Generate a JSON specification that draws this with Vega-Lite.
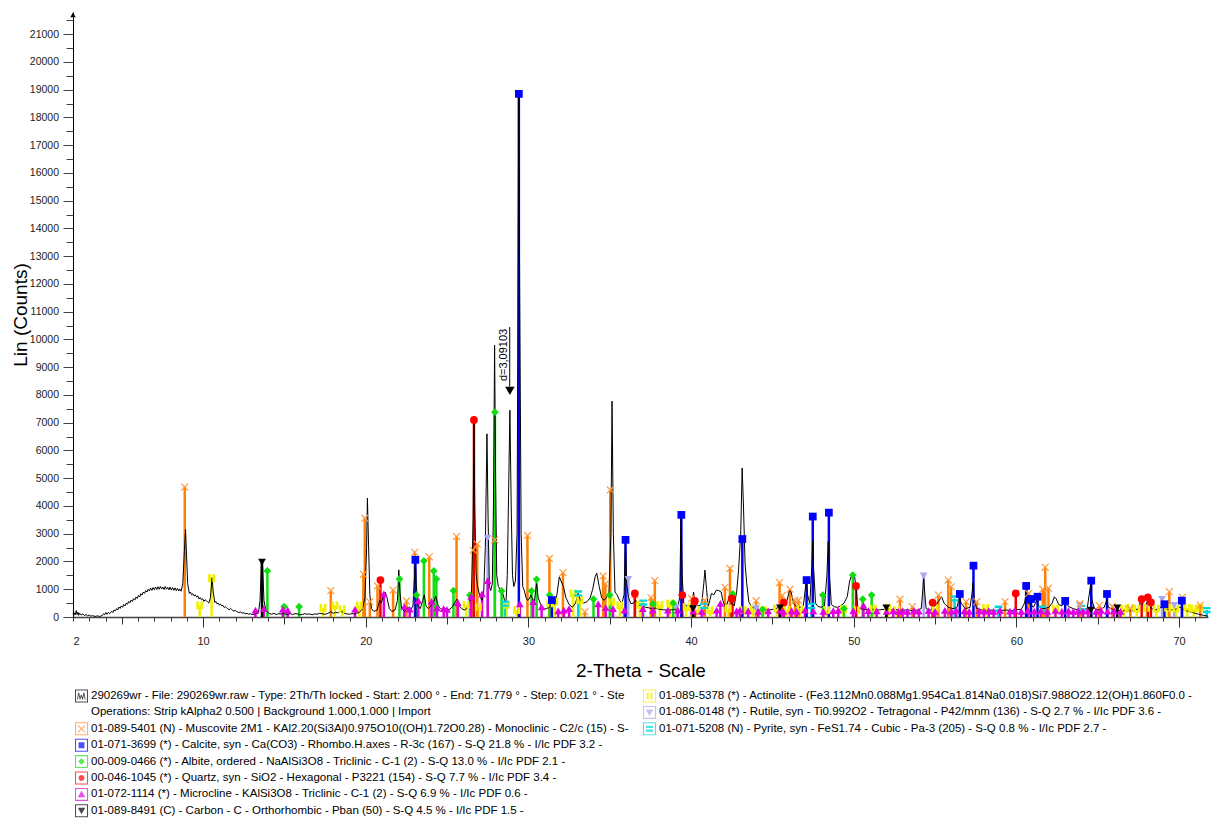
{
  "$schema": "https://vega.github.io/schema/vega-lite/v6.json",
  "width": 1135,
  "height": 605,
  "autosize": {"type": "none"},
  "padding": {"left": 73, "top": 12, "right": 4, "bottom": 206},
  "background": "white",
  "config": {
    "view": {"stroke": null},
    "font": "Liberation Sans",
    "axis": {"grid": false, "labelFont": "Liberation Sans", "titleFont": "Liberation Sans"}
  },
  "resolve": {
    "scale": {"color": "independent", "shape": "independent", "size": "independent"},
    "axis": {"x": "independent", "y": "independent"}
  },
  "datasets": {
    "sticks": [
      {"p":"Y","t":9.79,"h":420},{"p":"Y","t":10.52,"h":1400},{"p":"Y","t":17.37,"h":330},{"p":"Y","t":18.1,"h":420},{"p":"Y","t":18.55,"h":280},{"p":"Y","t":19.6,"h":420},{"p":"Y","t":26.17,"h":440},{"p":"Y","t":26.92,"h":360},{"p":"Y","t":28.65,"h":440},{"p":"Y","t":29.27,"h":250},{"p":"Y","t":31.32,"h":490},{"p":"Y","t":31.62,"h":550},{"p":"Y","t":32.75,"h":850},{"p":"Y","t":33.16,"h":610},{"p":"Y","t":35.11,"h":550},{"p":"Y","t":35.62,"h":420},{"p":"Y","t":36.85,"h":440},{"p":"Y","t":38.08,"h":440},{"p":"Y","t":38.69,"h":490},{"p":"Y","t":39.7,"h":360},{"p":"Y","t":40.34,"h":250},{"p":"Y","t":41.16,"h":250},{"p":"Y","t":42.28,"h":300},{"p":"Y","t":43.2,"h":250},{"p":"Y","t":43.82,"h":280},{"p":"Y","t":44.43,"h":250},{"p":"Y","t":45.26,"h":300},{"p":"Y","t":45.87,"h":260},{"p":"Y","t":46.69,"h":280},{"p":"Y","t":48.33,"h":250},{"p":"Y","t":49.36,"h":280},{"p":"Y","t":50.18,"h":250},{"p":"Y","t":51.2,"h":300},{"p":"Y","t":52.1,"h":330},{"p":"Y","t":52.64,"h":250},{"p":"Y","t":55.0,"h":300},{"p":"Y","t":58.1,"h":330},{"p":"Y","t":62.4,"h":300},{"p":"Y","t":66.6,"h":300},{"p":"Y","t":67.0,"h":330},{"p":"Y","t":67.4,"h":300},{"p":"Y","t":68.0,"h":330},{"p":"Y","t":68.6,"h":300},{"p":"Y","t":69.3,"h":330},{"p":"Y","t":69.8,"h":300},{"p":"Y","t":70.5,"h":330},{"p":"Y","t":70.9,"h":300},{"p":"Y","t":71.3,"h":330},
      {"p":"P","t":28.55,"h":480},{"p":"P","t":33.06,"h":850},{"p":"P","t":37.05,"h":520},{"p":"P","t":40.8,"h":400},{"p":"P","t":47.4,"h":400},{"p":"P","t":56.2,"h":670},{"p":"P","t":58.9,"h":300},{"p":"P","t":61.6,"h":300},{"p":"P","t":64.0,"h":330},{"p":"P","t":71.7,"h":250},
      {"p":"R","t":27.49,"h":2840},{"p":"R","t":36.14,"h":1360},{"p":"R","t":39.1,"h":360},{"p":"R","t":44.0,"h":300},{"p":"R","t":54.3,"h":1480},{"p":"R","t":63.9,"h":420},{"p":"R","t":68.95,"h":640},{"p":"R","t":69.7,"h":420},
      {"p":"M","t":8.87,"h":4680},{"p":"M","t":17.85,"h":950},{"p":"M","t":19.85,"h":1540},{"p":"M","t":19.94,"h":3560},{"p":"M","t":20.25,"h":550},{"p":"M","t":20.72,"h":1120},{"p":"M","t":21.68,"h":970},{"p":"M","t":22.5,"h":580},{"p":"M","t":23.01,"h":2330},{"p":"M","t":23.9,"h":2170},{"p":"M","t":25.58,"h":2900},{"p":"M","t":26.6,"h":2410},{"p":"M","t":26.85,"h":2630},{"p":"M","t":27.93,"h":2780},{"p":"M","t":29.94,"h":2940},{"p":"M","t":31.29,"h":2110},{"p":"M","t":32.12,"h":1600},{"p":"M","t":33.47,"h":190},{"p":"M","t":34.59,"h":1480},{"p":"M","t":34.73,"h":1190},{"p":"M","t":35.03,"h":4580},{"p":"M","t":36.55,"h":800},{"p":"M","t":37.53,"h":700},{"p":"M","t":37.77,"h":1310},{"p":"M","t":40.03,"h":670},{"p":"M","t":40.85,"h":600},{"p":"M","t":42.08,"h":1070},{"p":"M","t":42.39,"h":1750},{"p":"M","t":44.0,"h":590},{"p":"M","t":45.44,"h":1240},{"p":"M","t":45.6,"h":770},{"p":"M","t":46.08,"h":1000},{"p":"M","t":46.4,"h":600},{"p":"M","t":46.6,"h":600},{"p":"M","t":52.84,"h":640},{"p":"M","t":53.6,"h":370},{"p":"M","t":55.2,"h":790},{"p":"M","t":55.81,"h":1330},{"p":"M","t":55.98,"h":1090},{"p":"M","t":56.9,"h":550},{"p":"M","t":57.56,"h":550},{"p":"M","t":59.3,"h":550},{"p":"M","t":60.75,"h":850},{"p":"M","t":61.62,"h":1000},{"p":"M","t":61.77,"h":1790},{"p":"M","t":61.97,"h":1040},{"p":"M","t":63.91,"h":480},{"p":"M","t":65.1,"h":410},{"p":"M","t":65.9,"h":380},{"p":"M","t":67.0,"h":300},{"p":"M","t":69.4,"h":910},{"p":"M","t":70.2,"h":710},{"p":"M","t":71.3,"h":430},
      {"p":"A","t":13.95,"h":1660},{"p":"A","t":14.98,"h":370},{"p":"A","t":15.9,"h":370},{"p":"A","t":22.07,"h":1370},{"p":"A","t":23.12,"h":790},{"p":"A","t":23.57,"h":2020},{"p":"A","t":24.18,"h":1660},{"p":"A","t":24.34,"h":1370},{"p":"A","t":25.39,"h":950},{"p":"A","t":26.4,"h":790},{"p":"A","t":27.94,"h":7380},{"p":"A","t":28.35,"h":940},{"p":"A","t":30.19,"h":940},{"p":"A","t":30.5,"h":1360},{"p":"A","t":31.3,"h":790},{"p":"A","t":34.0,"h":640},{"p":"A","t":35.0,"h":790},{"p":"A","t":37.66,"h":470},{"p":"A","t":38.9,"h":500},{"p":"A","t":42.56,"h":830},{"p":"A","t":44.4,"h":270},{"p":"A","t":48.1,"h":790},{"p":"A","t":49.4,"h":300},{"p":"A","t":49.94,"h":1510},{"p":"A","t":50.55,"h":640},{"p":"A","t":51.1,"h":790},
      {"p":"Q","t":20.9,"h":1330},{"p":"Q","t":26.65,"h":7100},{"p":"Q","t":36.54,"h":850},{"p":"Q","t":39.46,"h":790},{"p":"Q","t":40.23,"h":580},{"p":"Q","t":42.5,"h":670},{"p":"Q","t":45.7,"h":520},{"p":"Q","t":50.14,"h":1120},{"p":"Q","t":54.85,"h":520},{"p":"Q","t":59.96,"h":850},{"p":"Q","t":67.7,"h":640},{"p":"Q","t":68.08,"h":710},{"p":"Q","t":68.27,"h":530},
      {"p":"K","t":13.22,"h":250},{"p":"K","t":13.73,"h":300},{"p":"K","t":14.9,"h":280},{"p":"K","t":15.2,"h":250},{"p":"K","t":19.34,"h":280},{"p":"K","t":21.11,"h":830},{"p":"K","t":22.37,"h":370},{"p":"K","t":22.7,"h":280},{"p":"K","t":23.23,"h":590},{"p":"K","t":24.04,"h":560},{"p":"K","t":24.38,"h":330},{"p":"K","t":24.79,"h":300},{"p":"K","t":24.99,"h":270},{"p":"K","t":25.66,"h":520},{"p":"K","t":26.48,"h":740},{"p":"K","t":27.15,"h":830},{"p":"K","t":27.5,"h":1310},{"p":"K","t":29.47,"h":470},{"p":"K","t":30.29,"h":550},{"p":"K","t":30.81,"h":360},{"p":"K","t":31.83,"h":220},{"p":"K","t":32.18,"h":250},{"p":"K","t":32.5,"h":300},{"p":"K","t":34.29,"h":470},{"p":"K","t":34.75,"h":340},{"p":"K","t":35.2,"h":300},{"p":"K","t":35.9,"h":250},{"p":"K","t":37.03,"h":300},{"p":"K","t":37.64,"h":250},{"p":"K","t":38.57,"h":250},{"p":"K","t":39.18,"h":250},{"p":"K","t":40.13,"h":220},{"p":"K","t":40.65,"h":200},{"p":"K","t":41.57,"h":250},{"p":"K","t":41.8,"h":490},{"p":"K","t":42.8,"h":220},{"p":"K","t":43.0,"h":250},{"p":"K","t":43.51,"h":220},{"p":"K","t":44.13,"h":200},{"p":"K","t":44.74,"h":220},{"p":"K","t":45.46,"h":250},{"p":"K","t":45.67,"h":200},{"p":"K","t":46.18,"h":230},{"p":"K","t":46.49,"h":200},{"p":"K","t":47.0,"h":250},{"p":"K","t":47.51,"h":220},{"p":"K","t":48.13,"h":200},{"p":"K","t":48.74,"h":230},{"p":"K","t":49.05,"h":250},{"p":"K","t":49.97,"h":230},{"p":"K","t":50.6,"h":420},{"p":"K","t":50.9,"h":230},{"p":"K","t":51.41,"h":220},{"p":"K","t":52.02,"h":200},{"p":"K","t":52.43,"h":230},{"p":"K","t":52.74,"h":200},{"p":"K","t":53.0,"h":230},{"p":"K","t":53.3,"h":200},{"p":"K","t":53.7,"h":240},{"p":"K","t":54.0,"h":210},{"p":"K","t":54.6,"h":230},{"p":"K","t":55.0,"h":200},{"p":"K","t":55.6,"h":240},{"p":"K","t":56.0,"h":210},{"p":"K","t":56.3,"h":250},{"p":"K","t":56.8,"h":220},{"p":"K","t":57.1,"h":200},{"p":"K","t":57.7,"h":240},{"p":"K","t":58.0,"h":210},{"p":"K","t":58.3,"h":230},{"p":"K","t":58.6,"h":200},{"p":"K","t":59.0,"h":240},{"p":"K","t":59.6,"h":210},{"p":"K","t":59.9,"h":230},{"p":"K","t":60.3,"h":200},{"p":"K","t":60.7,"h":240},{"p":"K","t":61.1,"h":210},{"p":"K","t":61.5,"h":230},{"p":"K","t":61.9,"h":200},{"p":"K","t":62.4,"h":240},{"p":"K","t":62.8,"h":210},{"p":"K","t":63.2,"h":230},{"p":"K","t":63.5,"h":200},{"p":"K","t":63.8,"h":240},{"p":"K","t":64.1,"h":210},{"p":"K","t":64.4,"h":230},{"p":"K","t":64.9,"h":200},{"p":"K","t":65.2,"h":240},{"p":"K","t":65.6,"h":210},{"p":"K","t":66.0,"h":230},{"p":"K","t":66.4,"h":200},
      {"p":"C","t":23.05,"h":2060},{"p":"C","t":29.41,"h":18850},{"p":"C","t":31.44,"h":610},{"p":"C","t":35.97,"h":2780},{"p":"C","t":39.4,"h":3680},{"p":"C","t":43.15,"h":2810},{"p":"C","t":47.1,"h":1330},{"p":"C","t":47.48,"h":3620},{"p":"C","t":48.47,"h":3760},{"p":"C","t":56.52,"h":830},{"p":"C","t":57.36,"h":1850},{"p":"C","t":60.6,"h":1120},{"p":"C","t":60.9,"h":650},{"p":"C","t":61.3,"h":730},{"p":"C","t":63.0,"h":580},{"p":"C","t":64.6,"h":1310},{"p":"C","t":65.57,"h":830},{"p":"C","t":69.1,"h":460},{"p":"C","t":70.17,"h":590},
      {"p":"B","t":13.62,"h":1980},{"p":"B","t":40.12,"h":300},{"p":"B","t":45.46,"h":330},{"p":"B","t":52.0,"h":330},{"p":"B","t":64.58,"h":250},{"p":"B","t":66.2,"h":330}
    ],
    "pattern": [
      {"t":2.0,"c":120},{"t":2.05,"c":60},{"t":2.1,"c":150},{"t":2.15,"c":80},{"t":2.2,"c":230},{"t":2.25,"c":90},{"t":2.3,"c":170},{"t":2.35,"c":60},{"t":2.4,"c":140},{"t":2.5,"c":70},{"t":2.6,"c":110},{"t":2.7,"c":50},{"t":2.8,"c":90},{"t":2.9,"c":40},{"t":3.0,"c":70},{"t":3.1,"c":30},{"t":3.2,"c":50},{"t":3.35,"c":20},{"t":3.5,"c":40},{"t":3.65,"c":20},{"t":3.8,"c":50},{"t":3.88,"c":120},{"t":3.95,"c":80},{"t":4.02,"c":160},{"t":4.1,"c":100},{"t":4.18,"c":170},{"t":4.25,"c":120},
      {"t":4.3,"c":150},{"t":4.38,"c":210},{"t":4.45,"c":160},{"t":4.52,"c":250},{"t":4.6,"c":220},{"t":4.68,"c":300},{"t":4.75,"c":250},{"t":4.82,"c":360},{"t":4.9,"c":310},{"t":4.97,"c":400},{"t":5.05,"c":350},{"t":5.12,"c":450},{"t":5.2,"c":400},{"t":5.27,"c":500},{"t":5.35,"c":460},{"t":5.42,"c":560},{"t":5.5,"c":510},{"t":5.57,"c":610},{"t":5.65,"c":560},{"t":5.72,"c":660},{"t":5.8,"c":610},{"t":5.87,"c":720},{"t":5.95,"c":670},{"t":6.02,"c":780},{"t":6.1,"c":720},{"t":6.17,"c":840},{"t":6.25,"c":790},{"t":6.32,"c":900},{"t":6.4,"c":850},{"t":6.47,"c":950},{"t":6.55,"c":900},{"t":6.62,"c":1000},{"t":6.7,"c":940},{"t":6.77,"c":1040},{"t":6.85,"c":960},{"t":6.92,"c":1060},{"t":7.0,"c":980},{"t":7.07,"c":1080},{"t":7.15,"c":990},{"t":7.22,"c":1090},{"t":7.3,"c":1000},{"t":7.37,"c":1100},{"t":7.45,"c":1010},{"t":7.52,"c":1080},{"t":7.6,"c":990},{"t":7.67,"c":1100},{"t":7.75,"c":1000},{"t":7.82,"c":1070},{"t":7.9,"c":980},{"t":7.97,"c":1080},{"t":8.05,"c":970},{"t":8.12,"c":1060},{"t":8.2,"c":960},{"t":8.27,"c":1050},{"t":8.35,"c":950},{"t":8.42,"c":1030},{"t":8.5,"c":940},{"t":8.57,"c":1010},{"t":8.65,"c":930},{"t":8.75,"c":1200},{"t":8.85,"c":2400},{"t":8.92,"c":3150},{"t":8.98,"c":2200},{"t":9.05,"c":1200},{"t":9.15,"c":850},{"t":9.22,"c":900},{"t":9.3,"c":800},{"t":9.37,"c":840},{"t":9.45,"c":760},{"t":9.52,"c":800},{"t":9.6,"c":720},{"t":9.67,"c":760},{"t":9.75,"c":650},{"t":9.82,"c":700},{"t":9.9,"c":620},{"t":9.97,"c":660},{"t":10.05,"c":560},{"t":10.12,"c":620},{"t":10.2,"c":590},{"t":10.28,"c":540},{"t":10.35,"c":500},{"t":10.45,"c":700},{"t":10.55,"c":1420},{"t":10.62,"c":900},{"t":10.72,"c":520},{"t":10.78,"c":560},{"t":10.85,"c":480},{"t":10.92,"c":500},{"t":11.0,"c":430},{"t":11.07,"c":460},{"t":11.15,"c":400},{"t":11.22,"c":420},{"t":11.3,"c":340},{"t":11.37,"c":370},{"t":11.45,"c":330},{"t":11.52,"c":300},{"t":11.6,"c":260},{"t":11.67,"c":300},{"t":11.75,"c":280},{"t":11.82,"c":230},{"t":11.9,"c":210},{"t":11.97,"c":240},{"t":12.05,"c":200},{"t":12.12,"c":180},{"t":12.2,"c":160},{"t":12.3,"c":180},{"t":12.4,"c":140},{"t":12.5,"c":150},{"t":12.6,"c":120},{"t":12.7,"c":130},{"t":12.8,"c":100},{"t":12.9,"c":120},{"t":13.0,"c":90},{"t":13.2,"c":110},{"t":13.4,"c":150},{"t":13.5,"c":600},{"t":13.58,"c":1950},{"t":13.66,"c":1800},{"t":13.74,"c":600},{"t":13.85,"c":250},{"t":14.0,"c":150},{"t":14.1,"c":120},{"t":14.2,"c":100},{"t":14.35,"c":130},{"t":14.5,"c":90},{"t":14.65,"c":120},{"t":14.8,"c":110},{"t":15.0,"c":130},{"t":15.1,"c":90},{"t":15.2,"c":100},{"t":15.35,"c":120},{"t":15.5,"c":90},{"t":15.65,"c":120},{"t":15.8,"c":110},{"t":15.95,"c":80},{"t":16.1,"c":90},{"t":16.25,"c":120},{"t":16.4,"c":100},{"t":16.55,"c":110},{"t":16.7,"c":80},{"t":16.85,"c":110},{"t":17.0,"c":100},{"t":17.15,"c":130},{"t":17.3,"c":120},{"t":17.45,"c":100},{"t":17.6,"c":110},{"t":17.85,"c":190},{"t":18.0,"c":130},{"t":18.15,"c":170},{"t":18.3,"c":150},{"t":18.5,"c":200},{"t":18.6,"c":170},{"t":18.7,"c":130},{"t":18.85,"c":110},{"t":19.0,"c":100},{"t":19.15,"c":120},{"t":19.3,"c":110},{"t":19.45,"c":140},{"t":19.6,"c":160},{"t":19.8,"c":300},{"t":19.95,"c":700},{"t":20.05,"c":2500},{"t":20.1,"c":4280},{"t":20.17,"c":2600},{"t":20.25,"c":800},{"t":20.35,"c":300},{"t":20.5,"c":200},{"t":20.7,"c":250},{"t":20.85,"c":600},{"t":20.95,"c":500},{"t":21.1,"c":780},{"t":21.2,"c":900},{"t":21.3,"c":700},{"t":21.45,"c":300},{"t":21.6,"c":200},{"t":21.8,"c":250},{"t":21.95,"c":600},{"t":22.03,"c":1700},{"t":22.1,"c":900},{"t":22.2,"c":300},{"t":22.4,"c":200},{"t":22.6,"c":350},{"t":22.75,"c":250},{"t":22.9,"c":400},{"t":23.0,"c":1500},{"t":23.05,"c":2100},{"t":23.1,"c":1200},{"t":23.2,"c":400},{"t":23.35,"c":300},{"t":23.5,"c":600},{"t":23.6,"c":800},{"t":23.7,"c":400},{"t":23.85,"c":300},{"t":24.0,"c":400},{"t":24.15,"c":500},{"t":24.3,"c":750},{"t":24.45,"c":400},{"t":24.6,"c":300},{"t":24.75,"c":250},{"t":24.9,"c":300},{"t":25.1,"c":250},{"t":25.3,"c":350},{"t":25.5,"c":550},{"t":25.62,"c":650},{"t":25.75,"c":400},{"t":25.9,"c":300},{"t":26.05,"c":250},{"t":26.2,"c":300},{"t":26.35,"c":450},{"t":26.5,"c":900},{"t":26.6,"c":3500},{"t":26.65,"c":7050},{"t":26.7,"c":4000},{"t":26.78,"c":1600},{"t":26.85,"c":1200},{"t":26.95,"c":900},{"t":27.05,"c":700},{"t":27.15,"c":600},{"t":27.25,"c":900},{"t":27.35,"c":2500},{"t":27.45,"c":6600},{"t":27.52,"c":3500},{"t":27.6,"c":1100},{"t":27.68,"c":950},{"t":27.78,"c":1200},{"t":27.85,"c":4000},{"t":27.92,"c":9800},{"t":27.98,"c":5000},{"t":28.05,"c":1500},{"t":28.15,"c":1100},{"t":28.25,"c":1000},{"t":28.35,"c":950},{"t":28.45,"c":800},{"t":28.55,"c":550},{"t":28.62,"c":500},{"t":28.7,"c":1500},{"t":28.78,"c":4500},{"t":28.86,"c":7450},{"t":28.94,"c":4000},{"t":29.02,"c":1500},{"t":29.1,"c":1100},{"t":29.2,"c":1300},{"t":29.3,"c":3000},{"t":29.38,"c":15000},{"t":29.41,"c":18900},{"t":29.46,"c":12000},{"t":29.55,"c":3000},{"t":29.65,"c":1100},{"t":29.75,"c":950},{"t":29.85,"c":700},{"t":29.95,"c":600},{"t":30.05,"c":650},{"t":30.15,"c":800},{"t":30.25,"c":650},{"t":30.35,"c":500},{"t":30.5,"c":1200},{"t":30.6,"c":700},{"t":30.75,"c":450},{"t":30.9,"c":280},{"t":31.1,"c":300},{"t":31.3,"c":350},{"t":31.45,"c":600},{"t":31.6,"c":450},{"t":31.75,"c":800},{"t":31.9,"c":1450},{"t":32.0,"c":1300},{"t":32.15,"c":1100},{"t":32.3,"c":700},{"t":32.5,"c":450},{"t":32.7,"c":350},{"t":32.9,"c":500},{"t":33.05,"c":850},{"t":33.2,"c":600},{"t":33.4,"c":500},{"t":33.6,"c":550},{"t":33.8,"c":700},{"t":33.95,"c":1000},{"t":34.1,"c":1450},{"t":34.2,"c":1580},{"t":34.35,"c":1100},{"t":34.5,"c":700},{"t":34.65,"c":600},{"t":34.8,"c":700},{"t":34.95,"c":900},{"t":35.07,"c":3000},{"t":35.14,"c":7780},{"t":35.22,"c":3000},{"t":35.32,"c":900},{"t":35.45,"c":800},{"t":35.6,"c":600},{"t":35.75,"c":500},{"t":35.88,"c":800},{"t":35.96,"c":2750},{"t":36.04,"c":1200},{"t":36.15,"c":700},{"t":36.3,"c":480},{"t":36.45,"c":500},{"t":36.6,"c":600},{"t":36.8,"c":420},{"t":37.0,"c":400},{"t":37.2,"c":350},{"t":37.4,"c":330},{"t":37.6,"c":300},{"t":37.8,"c":320},{"t":38.0,"c":280},{"t":38.3,"c":260},{"t":38.6,"c":250},{"t":38.9,"c":260},{"t":39.15,"c":300},{"t":39.3,"c":700},{"t":39.38,"c":3650},{"t":39.45,"c":1500},{"t":39.55,"c":500},{"t":39.7,"c":400},{"t":39.9,"c":370},{"t":40.05,"c":420},{"t":40.15,"c":900},{"t":40.25,"c":500},{"t":40.45,"c":400},{"t":40.65,"c":450},{"t":40.78,"c":1200},{"t":40.85,"c":1690},{"t":40.95,"c":1000},{"t":41.05,"c":380},{"t":41.15,"c":600},{"t":41.25,"c":850},{"t":41.4,"c":800},{"t":41.55,"c":970},{"t":41.7,"c":950},{"t":41.85,"c":900},{"t":41.95,"c":600},{"t":42.08,"c":380},{"t":42.2,"c":450},{"t":42.35,"c":730},{"t":42.5,"c":500},{"t":42.65,"c":400},{"t":42.8,"c":900},{"t":42.92,"c":1700},{"t":43.05,"c":3000},{"t":43.14,"c":5370},{"t":43.22,"c":4000},{"t":43.32,"c":1900},{"t":43.42,"c":1200},{"t":43.55,"c":550},{"t":43.7,"c":380},{"t":43.9,"c":300},{"t":44.1,"c":260},{"t":44.3,"c":250},{"t":44.6,"c":280},{"t":44.9,"c":260},{"t":45.2,"c":300},{"t":45.45,"c":380},{"t":45.7,"c":420},{"t":45.9,"c":600},{"t":46.05,"c":970},{"t":46.15,"c":900},{"t":46.3,"c":500},{"t":46.45,"c":380},{"t":46.7,"c":350},{"t":46.9,"c":400},{"t":47.0,"c":900},{"t":47.08,"c":1330},{"t":47.16,"c":800},{"t":47.3,"c":480},{"t":47.42,"c":1800},{"t":47.47,"c":2720},{"t":47.53,"c":1800},{"t":47.65,"c":500},{"t":47.8,"c":380},{"t":48.0,"c":350},{"t":48.2,"c":400},{"t":48.35,"c":1500},{"t":48.43,"c":2720},{"t":48.5,"c":1600},{"t":48.62,"c":450},{"t":48.8,"c":370},{"t":49.0,"c":350},{"t":49.2,"c":400},{"t":49.4,"c":500},{"t":49.6,"c":730},{"t":49.75,"c":1300},{"t":49.88,"c":1520},{"t":49.96,"c":1570},{"t":50.05,"c":1450},{"t":50.14,"c":1100},{"t":50.24,"c":400},{"t":50.4,"c":300},{"t":50.6,"c":280},{"t":50.9,"c":250},{"t":51.2,"c":280},{"t":51.5,"c":250},{"t":51.8,"c":270},{"t":52.1,"c":300},{"t":52.4,"c":250},{"t":52.7,"c":270},{"t":53.0,"c":240},{"t":53.3,"c":260},{"t":53.6,"c":230},{"t":53.9,"c":250},{"t":54.15,"c":300},{"t":54.25,"c":1000},{"t":54.3,"c":1450},{"t":54.36,"c":900},{"t":54.45,"c":300},{"t":54.7,"c":250},{"t":55.0,"c":400},{"t":55.2,"c":550},{"t":55.4,"c":730},{"t":55.55,"c":500},{"t":55.8,"c":350},{"t":56.1,"c":300},{"t":56.35,"c":350},{"t":56.5,"c":730},{"t":56.6,"c":500},{"t":56.85,"c":300},{"t":57.15,"c":350},{"t":57.28,"c":900},{"t":57.33,"c":1250},{"t":57.4,"c":700},{"t":57.55,"c":300},{"t":57.9,"c":250},{"t":58.2,"c":230},{"t":58.5,"c":250},{"t":58.8,"c":220},{"t":59.1,"c":240},{"t":59.4,"c":250},{"t":59.7,"c":230},{"t":60.0,"c":260},{"t":60.3,"c":280},{"t":60.5,"c":500},{"t":60.63,"c":970},{"t":60.72,"c":500},{"t":60.9,"c":450},{"t":61.05,"c":350},{"t":61.25,"c":600},{"t":61.4,"c":350},{"t":61.7,"c":300},{"t":62.0,"c":350},{"t":62.2,"c":500},{"t":62.33,"c":730},{"t":62.45,"c":650},{"t":62.6,"c":450},{"t":62.8,"c":400},{"t":62.95,"c":600},{"t":63.05,"c":550},{"t":63.2,"c":380},{"t":63.5,"c":300},{"t":63.8,"c":250},{"t":64.1,"c":260},{"t":64.35,"c":300},{"t":64.5,"c":900},{"t":64.57,"c":1200},{"t":64.65,"c":600},{"t":64.8,"c":300},{"t":65.1,"c":250},{"t":65.4,"c":350},{"t":65.55,"c":600},{"t":65.65,"c":350},{"t":66.0,"c":250},{"t":66.4,"c":230},{"t":66.8,"c":220},{"t":67.2,"c":230},{"t":67.5,"c":300},{"t":67.65,"c":600},{"t":67.71,"c":680},{"t":67.8,"c":400},{"t":67.95,"c":450},{"t":68.1,"c":600},{"t":68.2,"c":350},{"t":68.5,"c":250},{"t":68.8,"c":300},{"t":69.0,"c":420},{"t":69.15,"c":300},{"t":69.5,"c":250},{"t":69.8,"c":280},{"t":70.06,"c":360},{"t":70.3,"c":250},{"t":70.6,"c":200},{"t":70.9,"c":150},{"t":71.2,"c":100},{"t":71.5,"c":60},{"t":71.779,"c":30}
    ]
  },
  "layer": [
    {
      "data": {"name": "sticks"},
      "mark": {"type": "rule", "strokeWidth": 2.5},
      "encoding": {
        "x": {"field": "t", "type": "quantitative", "scale": {"domain": [2, 71.779], "nice": false, "zero": false},
              "axis": {"orient": "bottom", "values": [2,3,4,5,6,7,8,9,10,11,12,13,14,15,16,17,18,19,20,21,22,23,24,25,26,27,28,29,30,31,32,33,34,35,36,37,38,39,40,41,42,43,44,45,46,47,48,49,50,51,52,53,54,55,56,57,58,59,60,61,62,63,64,65,66,67,68,69,70,71], "tickSize": 4, "tickColor": "#333", "labels": false, "domain": false, "title": null}},
        "y": {"field": "h", "type": "quantitative", "scale": {"domain": [0, 21800], "nice": false},
              "axis": {"orient": "left", "values": [500,1500,2500,3500,4500,5500,6500,7500,8500,9500,10500,11500,12500,13500,14500,15500,16500,17500,18500,19500,20500,21500], "tickSize": 7, "tickColor": "#444", "labels": false, "domain": false, "title": null}},
        "y2": {"datum": 0},
        "color": {"field": "p", "type": "nominal", "legend": null,
                  "scale": {"domain": ["Y","P","R","M","A","Q","K","C","B"], "range": ["#f0f000","#00d8d8","#a8a8f0","#ff8000","#11dd11","#ee0000","#e000e0","#0000ee","#000000"]}}
      }
    },
    {
      "data": {"name": "pattern"},
      "mark": {"type": "line", "color": "#000000", "strokeWidth": 1},
      "encoding": {
        "x": {"field": "t", "type": "quantitative", "scale": {"domain": [2, 71.779], "nice": false, "zero": false},
              "axis": {"orient": "bottom", "values": [5,15,25,35,45,55,65], "tickSize": 7, "tickColor": "#333", "labels": false, "domain": false, "title": null}},
        "y": {"field": "c", "type": "quantitative", "scale": {"domain": [0, 21800], "nice": false},
              "axis": {"orient": "left", "values": [0,1000,2000,3000,4000,5000,6000,7000,8000,9000,10000,11000,12000,13000,14000,15000,16000,17000,18000,19000,20000,21000],
                       "format": "d",
                       "tickSize": 10, "tickColor": "#444", "labelFontSize": 10.5, "labelColor": "#222", "labelPadding": 4.5,
                       "domain": true, "domainColor": "#000000", "domainWidth": 1,
                       "title": "Lin (Counts)", "titleFontSize": 19, "titleFontWeight": "normal", "titleColor": "#000000", "titlePadding": -1}}
      }
    },
    {
      "data": {"name": "sticks"},
      "mark": {"type": "point", "filled": true, "opacity": 1},
      "encoding": {
        "x": {"field": "t", "type": "quantitative", "scale": {"domain": [2, 71.779], "nice": false, "zero": false},
              "axis": {"orient": "bottom", "values": [2,10,20,30,40,50,60,70], "tickSize": 10,
                       "tickColor": {"condition": {"test": "datum.value == 2", "value": "transparent"}, "value": "#333"},
                       "labelFontSize": 11, "labelColor": "#222", "labelPadding": 8,
                       "domain": true, "domainColor": "#444", "domainWidth": 1.5,
                       "title": "2-Theta - Scale", "titleFontSize": 19, "titleFontWeight": "normal", "titleColor": "#000000", "titlePadding": 15}},
        "y": {"field": "h", "type": "quantitative", "scale": {"domain": [0, 21800], "nice": false}, "axis": null},
        "color": {"field": "p", "type": "nominal", "legend": null,
                  "scale": {"domain": ["Y","P","R","M","A","Q","K","C","B"], "range": ["#f0f000","#00d8d8","#a8a8f0","#ff9a3c","#11dd11","#ff0000","#e000e0","#0000ff","#000000"]}},
        "shape": {"field": "p", "type": "nominal", "legend": null,
                  "scale": {"domain": ["Y","P","R","M","A","Q","K","C","B"],
                            "range": ["M-0.9,-1H-0.2V1H-0.9Z M0.2,-1H0.9V1H0.2Z", "M-1,-0.8H1V-0.2H-1Z M-1,0.2H1V0.8H-1Z", "triangle-down", "M-1,-0.78L-0.78,-1L0,-0.22L0.78,-1L1,-0.78L0.22,0L1,0.78L0.78,1L0,0.22L-0.78,1L-1,0.78L-0.22,0Z", "diamond", "circle", "triangle-up", "square", "triangle-down"]}},
        "size": {"field": "p", "type": "nominal", "legend": null,
                 "scale": {"domain": ["Y","P","R","M","A","Q","K","C","B"], "range": [60, 60, 75, 85, 60, 70, 100, 72, 85]}}
      }
    },
    {
      "data": {"values": [{"t": 28.85, "a": 8300, "b": 10450}]},
      "mark": {"type": "rule", "color": "#000000", "strokeWidth": 1},
      "encoding": {
        "x": {"field": "t", "type": "quantitative", "scale": {"domain": [2, 71.779], "nice": false, "zero": false}, "axis": null},
        "y": {"field": "a", "type": "quantitative", "scale": {"domain": [0, 21800], "nice": false}, "axis": null},
        "y2": {"field": "b"}
      }
    },
    {
      "data": {"values": [{"t": 28.8, "a": 8500, "label": "d=3,09103"}]},
      "mark": {"type": "text", "angle": 270, "align": "left", "baseline": "bottom", "fontSize": 11, "color": "#000000", "font": "Liberation Sans"},
      "encoding": {
        "x": {"field": "t", "type": "quantitative", "scale": {"domain": [2, 71.779], "nice": false, "zero": false}, "axis": null},
        "y": {"field": "a", "type": "quantitative", "scale": {"domain": [0, 21800], "nice": false}, "axis": null},
        "text": {"field": "label"}
      }
    },
    {
      "data": {"values": [{"t": 28.86, "a": 8150}, {"t": 2.0, "a": 21700}]},
      "mark": {"type": "point", "filled": true, "color": "#000000", "opacity": 1},
      "encoding": {
        "x": {"field": "t", "type": "quantitative", "scale": {"domain": [2, 71.779], "nice": false, "zero": false}, "axis": null},
        "y": {"field": "a", "type": "quantitative", "scale": {"domain": [0, 21800], "nice": false}, "axis": null},
        "shape": {"field": "t", "type": "nominal", "legend": null, "scale": {"domain": [28.86, 2.0], "range": ["triangle-down", "triangle-up"]}},
        "size": {"field": "t", "type": "nominal", "legend": null, "scale": {"domain": [28.86, 2.0], "range": [90, 30]}}
      }
    },
    {
      "data": {"values": []},
      "mark": {"type": "point", "filled": true},
      "encoding": {
        "color": {"field": "k", "type": "nominal",
          "scale": {"domain": [
            "290269wr - File: 290269wr.raw - Type: 2Th/Th locked - Start: 2.000 ° - End: 71.779 ° - Step: 0.021 ° - Ste",
            "Operations: Strip kAlpha2 0.500 | Background 1.000,1.000 | Import",
            "01-089-5401 (N) - Muscovite 2M1 - KAl2.20(Si3Al)0.975O10((OH)1.72O0.28) - Monoclinic - C2/c (15) - S-",
            "01-071-3699 (*) - Calcite, syn - Ca(CO3) - Rhombo.H.axes - R-3c (167) - S-Q 21.8 % - I/Ic PDF 3.2 -",
            "00-009-0466 (*) - Albite, ordered - NaAlSi3O8 - Triclinic - C-1 (2) - S-Q 13.0 % - I/Ic PDF 2.1 -",
            "00-046-1045 (*) - Quartz, syn - SiO2 - Hexagonal - P3221 (154) - S-Q 7.7 % - I/Ic PDF 3.4 -",
            "01-072-1114 (*) - Microcline - KAlSi3O8 - Triclinic - C-1 (2) - S-Q 6.9 % - I/Ic PDF 0.6 -",
            "01-089-8491 (C) - Carbon - C - Orthorhombic - Pban (50) - S-Q 4.5 % - I/Ic PDF 1.5 -"],
            "range": ["#000000","#ffffff","#ff8c28","#0000ff","#11dd11","#ff0000","#e000e0","#000000"]},
          "legend": {"title": null, "orient": "none", "legendX": 2, "legendY": 677.5, "symbolSize": 169, "labelFontSize": 11.5, "labelFont": "Liberation Sans", "labelColor": "#000000", "labelLimit": 2000, "rowPadding": 3.4, "labelOffset": 3, "padding": 0, "symbolStrokeWidth": 0}},
        "shape": {"field": "k", "type": "nominal",
          "scale": {"domain": [
            "290269wr - File: 290269wr.raw - Type: 2Th/Th locked - Start: 2.000 ° - End: 71.779 ° - Step: 0.021 ° - Ste",
            "Operations: Strip kAlpha2 0.500 | Background 1.000,1.000 | Import",
            "01-089-5401 (N) - Muscovite 2M1 - KAl2.20(Si3Al)0.975O10((OH)1.72O0.28) - Monoclinic - C2/c (15) - S-",
            "01-071-3699 (*) - Calcite, syn - Ca(CO3) - Rhombo.H.axes - R-3c (167) - S-Q 21.8 % - I/Ic PDF 3.2 -",
            "00-009-0466 (*) - Albite, ordered - NaAlSi3O8 - Triclinic - C-1 (2) - S-Q 13.0 % - I/Ic PDF 2.1 -",
            "00-046-1045 (*) - Quartz, syn - SiO2 - Hexagonal - P3221 (154) - S-Q 7.7 % - I/Ic PDF 3.4 -",
            "01-072-1114 (*) - Microcline - KAlSi3O8 - Triclinic - C-1 (2) - S-Q 6.9 % - I/Ic PDF 0.6 -",
            "01-089-8491 (C) - Carbon - C - Orthorhombic - Pban (50) - S-Q 4.5 % - I/Ic PDF 1.5 -"],
            "range": [
              "M-1,-1H1V-0.84H-1Z M-1,0.84H1V1H-1Z M-1,-1H-0.84V1H-1Z M0.84,-1H1V1H0.84Z M-0.7,0.55L-0.5,-0.55L-0.36,-0.55L-0.56,0.55Z M-0.36,-0.55L-0.16,0.55L-0.3,0.55L-0.5,-0.55Z M-0.3,0.55L-0.1,-0.2L0.04,-0.2L-0.16,0.55Z M0.04,-0.2L0.24,0.55L0.1,0.55L-0.1,-0.2Z M0.1,0.55L0.3,-0.55L0.44,-0.55L0.24,0.55Z M0.44,-0.55L0.64,0.55L0.5,0.55L0.3,-0.55Z",
              "square",
              "M-1,-1H1V-0.84H-1Z M-1,0.84H1V1H-1Z M-1,-1H-0.84V1H-1Z M0.84,-1H1V1H0.84Z M-0.6,-0.48L-0.48,-0.6L0,-0.12L0.48,-0.6L0.6,-0.48L0.12,0L0.6,0.48L0.48,0.6L0,0.12L-0.48,0.6L-0.6,0.48L-0.12,0Z",
              "M-1,-1H1V-0.84H-1Z M-1,0.84H1V1H-1Z M-1,-1H-0.84V1H-1Z M0.84,-1H1V1H0.84Z M-0.45,-0.45H0.45V0.45H-0.45Z",
              "M-1,-1H1V-0.84H-1Z M-1,0.84H1V1H-1Z M-1,-1H-0.84V1H-1Z M0.84,-1H1V1H0.84Z M0,-0.5L0.5,0L0,0.5L-0.5,0Z",
              "M-1,-1H1V-0.84H-1Z M-1,0.84H1V1H-1Z M-1,-1H-0.84V1H-1Z M0.84,-1H1V1H0.84Z M-0.45,0A0.45,0.45,0,1,1,0.45,0A0.45,0.45,0,1,1,-0.45,0Z",
              "M-1,-1H1V-0.84H-1Z M-1,0.84H1V1H-1Z M-1,-1H-0.84V1H-1Z M0.84,-1H1V1H0.84Z M0,-0.55L0.58,0.45H-0.58Z",
              "M-1,-1H1V-0.84H-1Z M-1,0.84H1V1H-1Z M-1,-1H-0.84V1H-1Z M0.84,-1H1V1H0.84Z M-0.58,-0.45H0.58L0,0.55Z"]},
          "legend": {"title": null, "orient": "none", "legendX": 2, "legendY": 677.5, "symbolSize": 169, "labelFontSize": 11.5, "labelFont": "Liberation Sans", "labelColor": "#000000", "labelLimit": 2000, "rowPadding": 3.4, "labelOffset": 3, "padding": 0, "symbolStrokeWidth": 0}}
      }
    },
    {
      "data": {"values": []},
      "mark": {"type": "point", "filled": true},
      "encoding": {
        "color": {"field": "k", "type": "nominal",
          "scale": {"domain": [
            "01-089-5378 (*) - Actinolite - (Fe3.112Mn0.088Mg1.954Ca1.814Na0.018)Si7.988O22.12(OH)1.860F0.0 -",
            "01-086-0148 (*) - Rutile, syn - Ti0.992O2 - Tetragonal - P42/mnm (136) - S-Q 2.7 % - I/Ic PDF 3.6 -",
            "01-071-5208 (N) - Pyrite, syn - FeS1.74 - Cubic - Pa-3 (205) - S-Q 0.8 % - I/Ic PDF 2.7 -"],
            "range": ["#eeee00","#a8a8f0","#00d8d8"]},
          "legend": {"title": null, "orient": "none", "legendX": 570, "legendY": 677.5, "symbolSize": 169, "labelFontSize": 11.5, "labelFont": "Liberation Sans", "labelColor": "#000000", "labelLimit": 2000, "rowPadding": 3.4, "labelOffset": 3, "padding": 0, "symbolStrokeWidth": 0}},
        "shape": {"field": "k", "type": "nominal",
          "scale": {"domain": [
            "01-089-5378 (*) - Actinolite - (Fe3.112Mn0.088Mg1.954Ca1.814Na0.018)Si7.988O22.12(OH)1.860F0.0 -",
            "01-086-0148 (*) - Rutile, syn - Ti0.992O2 - Tetragonal - P42/mnm (136) - S-Q 2.7 % - I/Ic PDF 3.6 -",
            "01-071-5208 (N) - Pyrite, syn - FeS1.74 - Cubic - Pa-3 (205) - S-Q 0.8 % - I/Ic PDF 2.7 -"],
            "range": [
              "M-1,-1H1V-0.84H-1Z M-1,0.84H1V1H-1Z M-1,-1H-0.84V1H-1Z M0.84,-1H1V1H0.84Z M-0.45,-0.55H-0.12V0.55H-0.45Z M0.12,-0.55H0.45V0.55H0.12Z",
              "M-1,-1H1V-0.84H-1Z M-1,0.84H1V1H-1Z M-1,-1H-0.84V1H-1Z M0.84,-1H1V1H0.84Z M-0.58,-0.45H0.58L0,0.55Z",
              "M-1,-1H1V-0.84H-1Z M-1,0.84H1V1H-1Z M-1,-1H-0.84V1H-1Z M0.84,-1H1V1H0.84Z M-0.55,-0.45H0.55V-0.12H-0.55Z M-0.55,0.12H0.55V0.45H-0.55Z"]},
          "legend": {"title": null, "orient": "none", "legendX": 570, "legendY": 677.5, "symbolSize": 169, "labelFontSize": 11.5, "labelFont": "Liberation Sans", "labelColor": "#000000", "labelLimit": 2000, "rowPadding": 3.4, "labelOffset": 3, "padding": 0, "symbolStrokeWidth": 0}}
      }
    }
  ]
}
